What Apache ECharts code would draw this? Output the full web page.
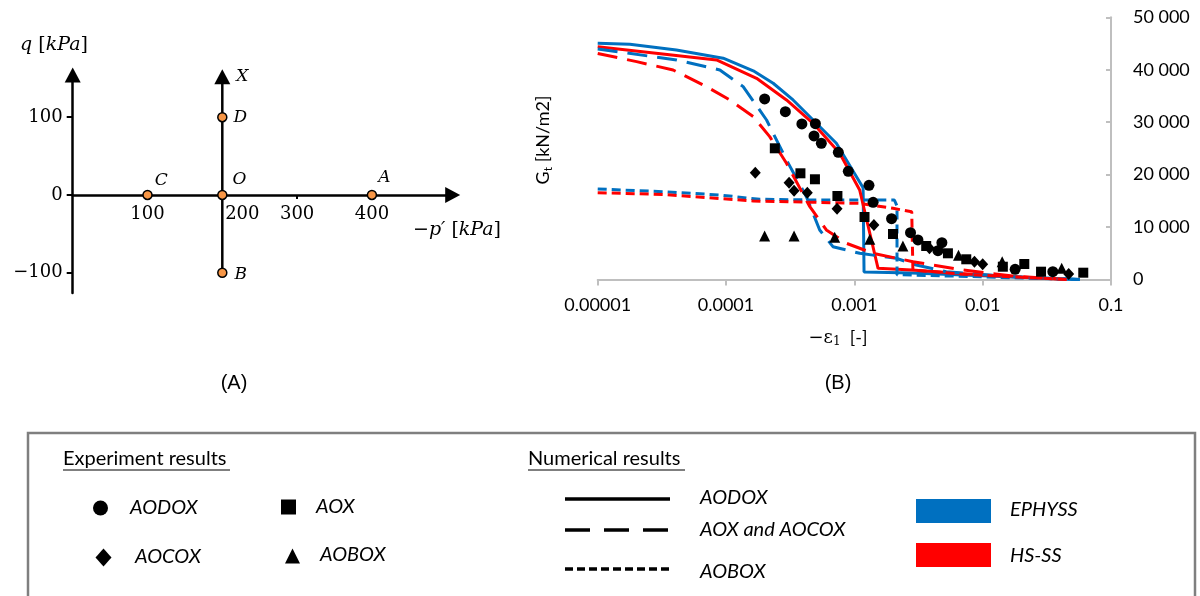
<!DOCTYPE html>
<html>
<head>
<meta charset="utf-8">
<script src="https://cdn.jsdelivr.net/npm/echarts@6/dist/echarts.min.js"></script>
<style>
  html, body { margin: 0; padding: 0; background: #fff; }
  #chart { width: 1200px; height: 596px; }
</style>
</head>
<body>
<div id="chart"></div>
<script>
// (A) stress path points
const pathNames = ['C', 'O', 'A', 'D', 'B']
const pathP = [100, 200, 400, 200, 200]
const pathQ = [0, 0, 0, 100, -100]
const pathX = [[200, -100], [200, 152]] // O -> X direction
const pTicks = [100, 200, 300, 400]
const qTicks = [-100, 0, 100]

// (B) experiment results
const aodoxX = [2.0e-4, 2.9e-4, 3.9e-4, 4.97e-4, 4.85e-4, 5.53e-4, 7.5e-4, 8.97e-4, 1.3e-3, 1.4e-3, 1.95e-3, 2.74e-3, 3.13e-3, 4.81e-3, 4.48e-3, 0.0179, 0.0352]
const aodoxY = [34420, 32000, 29650, 29700, 27360, 25970, 24250, 20620, 17950, 14710, 11580, 8910, 7520, 7000, 5480, 1930, 1470]
const aoxX = [2.4e-4, 3.8e-4, 4.93e-4, 7.38e-4, 1.2e-3, 2.0e-3, 3.63e-3, 5.36e-3, 7.45e-3, 0.01436, 0.0211, 0.0285, 0.0608]
const aoxY = [25010, 20240, 19100, 15910, 11900, 8660, 6370, 4980, 3835, 2420, 2940, 1470, 1280]
const aocoxX = [1.69e-4, 3.1e-4, 3.39e-4, 4.3e-4, 7.33e-4, 1.42e-3, 3.85e-3, 8.63e-3, 0.01, 0.0468]
const aocoxY = [20360, 18450, 16920, 16540, 13490, 10380, 5930, 3380, 2880, 1030]
const aoboxX = [2.0e-4, 3.39e-4, 7.03e-4, 1.32e-3, 2.39e-3, 6.48e-3, 0.0142, 0.0413]
const aoboxY = [8280, 8280, 8030, 7650, 6370, 4600, 3380, 2120]

// (B) numerical results
const ephyssAodoxX = [1e-5, 1.78e-5, 4.1e-5, 9.5e-5, 1.63e-4, 2.33e-4, 3.33e-4, 4.77e-4, 7.24e-4, 1.17e-3, 1.19e-3, 2.8e-3, 0.01, 0.03, 0.057]
const ephyssAodoxY = [45050, 44860, 43770, 42190, 39800, 37420, 34230, 30410, 25970, 17500, 1400, 1200, 700, 200, 0]
const hsAodoxX = [1e-5, 8.43e-5, 1.73e-4, 2.96e-4, 4.77e-4, 7.69e-4, 1.1e-3, 1.53e-3, 2.8e-3, 0.01, 0.03, 0.045]
const hsAodoxY = [44400, 41860, 38370, 34230, 29780, 24060, 17060, 2120, 1800, 840, 200, 0]
const ephyssAoxX = [1e-5, 4.12e-5, 8.95e-5, 1.36e-4, 2.07e-4, 2.96e-4, 4.23e-4, 5.37e-4, 6.81e-4, 1.1e-3, 2.12e-3, 3.03e-3, 5.2e-3, 0.0171, 0.057]
const ephyssAoxY = [43960, 41860, 39950, 36770, 30410, 22780, 15780, 9430, 6240, 4980, 4030, 2750, 1470, 515, 0]
const hsAoxX = [1e-5, 2.01e-5, 3.87e-5, 7.05e-5, 1.07e-4, 1.63e-4, 2.19e-4, 2.96e-4, 4.5e-4, 6.05e-4, 8.67e-4, 1.4e-3, 2.86e-3, 7e-3, 0.0171, 0.045]
const hsAoxY = [43100, 41540, 39950, 36770, 34230, 31040, 27230, 22150, 13870, 9430, 6890, 4980, 3380, 1790, 650, 0]
const ephyssAoboxX = [1e-5, 3.25e-5, 8.95e-5, 1.83e-4, 4.77e-4, 2.05e-3, 2.15e-3, 2.15e-3, 8e-3, 0.03, 0.057]
const ephyssAoboxY = [17250, 16730, 16100, 15280, 15150, 15150, 14000, 900, 550, 150, 0]
const hsAoboxX = [1e-5, 3.25e-5, 1.63e-4, 4.77e-4, 1.1e-3, 2e-3, 2.8e-3, 2.86e-3, 7e-3, 0.02, 0.045]
const hsAoboxY = [16540, 16200, 14960, 14710, 14500, 13560, 12900, 1790, 1000, 400, 0]

const strainTicks = [0.00001, 0.0001, 0.001, 0.01, 0.1]
const strainTickLabels = ['0.00001', '0.0001', '0.001', '0.01', '0.1']
const gTicks = [0, 10000, 20000, 30000, 40000, 50000]
const gTickLabels = ['0', '10 000', '20 000', '30 000', '40 000', '50 000']

const BLUE = '#0070C0'
const RED = '#FF0000'
const LONG_DASH = [20, 10]
const SHORT_DASH = [9, 5]
const SERIF = 'DejaVu Serif'
const SANS = 'Lato'

const zip = (xs, ys) => xs.map((x, i) => [x, ys[i]])

// label placement for the stress path letters
const letterStyle = {
  C: { distance: 2, offset: [0, -14] },
  O: { distance: 5, offset: [0, -15] },
  A: { distance: 1, offset: [0, -17] },
  D: { distance: 6, offset: [0, 0] },
  B: { distance: 7, offset: [0, 2] }
}

const chart = echarts.init(document.getElementById('chart'))

function curve(name, xs, ys, color, dash) {
  return {
    name: name,
    type: 'line',
    xAxisIndex: 1,
    yAxisIndex: 1,
    data: zip(xs, ys),
    symbol: 'none',
    z: 2,
    silent: true,
    lineStyle: { color: color, width: 3, type: dash || 'solid' }
  }
}

function points(name, xs, ys, symbol, size) {
  return {
    name: name,
    type: 'scatter',
    xAxisIndex: 1,
    yAxisIndex: 1,
    data: zip(xs, ys),
    symbol: symbol,
    symbolSize: size,
    z: 4,
    itemStyle: { color: '#000', opacity: 1 }
  }
}

const serifLabel = { fontFamily: SERIF, fontSize: 18, color: '#000' }
const italicLetter = { fontFamily: SERIF, fontStyle: 'italic', fontSize: 17, color: '#000' }

const legendText = { font: 'italic 20px Lato', fill: '#000', verticalAlign: 'middle' }
const headText = { font: '20px Lato', fill: '#000', verticalAlign: 'middle' }

chart.setOption({
  animation: false,
  backgroundColor: '#fff',
  grid: [
    { left: 72.7, top: 75, width: 380, height: 218 },
    { left: 597.7, top: 17.3, width: 513.3, height: 262.1 }
  ],
  xAxis: [
    {
      gridIndex: 0,
      type: 'value',
      min: 0,
      max: 508,
      axisLine: {
        show: true,
        onZero: true,
        symbol: ['none', 'triangle'],
        symbolSize: [16, 15],
        lineStyle: { color: '#000', width: 2.5 }
      },
      axisTick: { show: true, customValues: [300], length: 4, lineStyle: { color: '#000', width: 2 } },
      axisLabel: {
        customValues: pTicks,
        margin: -88,
        ...serifLabel,
        formatter: v => (v === 200 ? '{s|' + v + '}' : String(v)),
        rich: { s: { ...serifLabel, padding: [0, 0, 0, 40] } }
      },
      splitLine: { show: false }
    },
    {
      gridIndex: 1,
      type: 'log',
      logBase: 10,
      min: strainTicks[0],
      max: strainTicks[strainTicks.length - 1],
      axisLine: { show: true, onZero: false, lineStyle: { color: '#BFBFBF', width: 2 } },
      axisTick: { show: true, length: 6, lineStyle: { color: '#BFBFBF', width: 2 } },
      minorTick: { show: false },
      axisLabel: {
        margin: 17,
        fontFamily: SANS,
        fontSize: 18,
        color: '#000',
        formatter: v => {
          const i = strainTicks.findIndex(t => Math.abs(Math.log10(t) - Math.log10(v)) < 1e-6)
          return i >= 0 ? strainTickLabels[i] : ''
        }
      },
      splitLine: { show: false }
    }
  ],
  yAxis: [
    {
      gridIndex: 0,
      type: 'value',
      min: -126,
      max: 154.2,
      axisLine: {
        show: true,
        symbol: ['none', 'triangle'],
        symbolSize: [16, 15],
        lineStyle: { color: '#000', width: 2.5 }
      },
      axisTick: { show: true, customValues: qTicks, length: 6, lineStyle: { color: '#000', width: 2 } },
      axisLabel: {
        customValues: qTicks,
        margin: 10,
        ...serifLabel,
        formatter: v => (v < 0 ? '\u2212' + Math.abs(v) : String(v))
      },
      splitLine: { show: false }
    },
    {
      gridIndex: 1,
      type: 'value',
      position: 'right',
      min: gTicks[0],
      max: gTicks[gTicks.length - 1],
      interval: 10000,
      axisLine: { show: true, lineStyle: { color: '#BFBFBF', width: 2 } },
      axisTick: { show: true, inside: true, length: 5, lineStyle: { color: '#BFBFBF', width: 2 } },
      axisLabel: {
        margin: 22,
        fontFamily: SANS,
        fontSize: 18,
        color: '#000',
        formatter: v => gTickLabels[gTicks.indexOf(v)]
      },
      splitLine: { show: false }
    }
  ],
  series: [
    // (A) path O -> X
    {
      type: 'line',
      xAxisIndex: 0,
      yAxisIndex: 0,
      silent: true,
      z: 2,
      lineStyle: { color: '#000', width: 2.5 },
      itemStyle: { color: '#000' },
      data: [
        { value: pathX[0], symbol: 'none' },
        {
          value: pathX[1],
          symbol: 'triangle',
          symbolSize: [16, 15],
          label: { show: true, position: 'right', distance: 6, formatter: 'X', ...italicLetter }
        }
      ]
    },
    // (A) stress states
    {
      type: 'scatter',
      xAxisIndex: 0,
      yAxisIndex: 0,
      z: 4,
      symbolSize: 9,
      itemStyle: { color: '#F79646', borderColor: '#000', borderWidth: 1.5, opacity: 1 },
      data: pathNames.map((n, i) => ({
        name: n,
        value: [pathP[i], pathQ[i]],
        label: {
          show: true,
          position: 'right',
          formatter: '{b}',
          ...italicLetter,
          ...letterStyle[n]
        }
      }))
    },
    // (B) numerical
    curve('EPHYSS AODOX', ephyssAodoxX, ephyssAodoxY, BLUE),
    curve('HS-SS AODOX', hsAodoxX, hsAodoxY, RED),
    curve('EPHYSS AOX', ephyssAoxX, ephyssAoxY, BLUE, LONG_DASH),
    curve('HS-SS AOX', hsAoxX, hsAoxY, RED, LONG_DASH),
    curve('EPHYSS AOBOX', ephyssAoboxX, ephyssAoboxY, BLUE, SHORT_DASH),
    curve('HS-SS AOBOX', hsAoboxX, hsAoboxY, RED, SHORT_DASH),
    // (B) experiments
    points('AODOX', aodoxX, aodoxY, 'circle', 11),
    points('AOX', aoxX, aoxY, 'rect', 10),
    points('AOCOX', aocoxX, aocoxY, 'diamond', [11, 12]),
    points('AOBOX', aoboxX, aoboxY, 'triangle', 11)
  ],
  graphic: [
    // axis titles of (A)
    {
      type: 'text', x: 54, y: 45,
      style: {
        text: '{i|q} [{i|kPa}]', align: 'center', verticalAlign: 'middle',
        font: '19px "DejaVu Serif"', fill: '#000',
        rich: { i: { fontFamily: SERIF, fontStyle: 'italic', fontSize: 19 } }
      }
    },
    {
      type: 'text', x: 457, y: 230,
      style: {
        text: '\u2212{i|p\u2032} [{i|kPa}]', align: 'center', verticalAlign: 'middle',
        font: '19px "DejaVu Serif"', fill: '#000',
        rich: { i: { fontFamily: SERIF, fontStyle: 'italic', fontSize: 19 } }
      }
    },
    // axis titles of (B)
    {
      type: 'text', x: 543, y: 140, rotation: Math.PI / 2,
      style: {
        text: '{g|G}{t|t}{g| [kN/m2]}', align: 'center', verticalAlign: 'middle',
        fill: '#000',
        rich: {
          g: { fontFamily: SANS, fontSize: 18, lineHeight: 22 },
          t: { fontFamily: SANS, fontSize: 12, lineHeight: 22, verticalAlign: 'bottom', padding: [6, 0, 0, 0] }
        }
      }
    },
    {
      type: 'text', x: 838, y: 338,
      style: {
        text: '{e|\u2212\u03B5}{s|1}{g|  [-]}', align: 'center', verticalAlign: 'middle',
        fill: '#000',
        rich: {
          e: { fontFamily: SERIF, fontSize: 18, lineHeight: 22 },
          s: { fontFamily: SERIF, fontSize: 12, lineHeight: 22, padding: [8, 0, 0, 0] },
          g: { fontFamily: SANS, fontSize: 18, lineHeight: 22 }
        }
      }
    },
    // panel tags
    { type: 'text', x: 234, y: 383, style: { text: '(A)', font: '20px "Liberation Sans"', fill: '#000', align: 'center', verticalAlign: 'middle' } },
    { type: 'text', x: 838, y: 383, style: { text: '(B)', font: '20px "Liberation Sans"', fill: '#000', align: 'center', verticalAlign: 'middle' } },
    // legend box
    {
      type: 'rect', shape: { x: 28, y: 433, width: 1167, height: 200 },
      style: { fill: 'none', stroke: '#7F7F7F', lineWidth: 2.5 }
    },
    { type: 'text', x: 63, y: 459, style: { ...headText, text: 'Experiment results' } },
    { type: 'line', shape: { x1: 63, y1: 470, x2: 230, y2: 470 }, style: { stroke: '#000', lineWidth: 1.2 } },
    { type: 'text', x: 528, y: 459, style: { ...headText, text: 'Numerical results' } },
    { type: 'line', shape: { x1: 528, y1: 470, x2: 685, y2: 470 }, style: { stroke: '#000', lineWidth: 1.2 } },
    // experiment symbols
    { type: 'circle', shape: { cx: 100.5, cy: 508, r: 7.5 }, style: { fill: '#000' } },
    { type: 'text', x: 130, y: 508, style: { ...legendText, text: 'AODOX' } },
    { type: 'rect', shape: { x: 281, y: 499.5, width: 15, height: 15 }, style: { fill: '#000' } },
    { type: 'text', x: 316, y: 507, style: { ...legendText, text: 'AOX' } },
    { type: 'polygon', shape: { points: [[103.5, 548.5], [111.5, 557.5], [103.5, 566.5], [95.5, 557.5]] }, style: { fill: '#000' } },
    { type: 'text', x: 135, y: 557, style: { ...legendText, text: 'AOCOX' } },
    { type: 'polygon', shape: { points: [[292.5, 548.5], [300, 563.5], [285, 563.5]] }, style: { fill: '#000' } },
    { type: 'text', x: 320, y: 555, style: { ...legendText, text: 'AOBOX' } },
    // numerical line styles
    { type: 'line', shape: { x1: 565, y1: 499, x2: 670, y2: 499 }, style: { stroke: '#000', lineWidth: 3.5 } },
    { type: 'text', x: 700, y: 498, style: { ...legendText, text: 'AODOX' } },
    { type: 'line', shape: { x1: 565, y1: 530, x2: 670, y2: 530 }, style: { stroke: '#000', lineWidth: 3.5, lineDash: [25, 14] } },
    { type: 'text', x: 700, y: 530, style: { ...legendText, text: 'AOX and AOCOX' } },
    { type: 'line', shape: { x1: 565, y1: 569, x2: 670, y2: 569 }, style: { stroke: '#000', lineWidth: 3.5, lineDash: [8, 4] } },
    { type: 'text', x: 700, y: 572, style: { ...legendText, text: 'AOBOX' } },
    // model colours
    { type: 'rect', shape: { x: 916, y: 499, width: 75, height: 24 }, style: { fill: BLUE } },
    { type: 'text', x: 1010, y: 510, style: { ...legendText, text: 'EPHYSS' } },
    { type: 'rect', shape: { x: 916, y: 543, width: 75, height: 24 }, style: { fill: RED } },
    { type: 'text', x: 1010, y: 556, style: { ...legendText, text: 'HS-SS' } }
  ]
})
</script>
</body>
</html>
